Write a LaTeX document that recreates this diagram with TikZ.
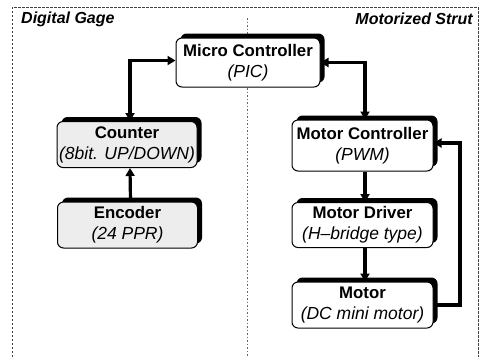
\documentclass[tikz,border=0pt]{standalone}
\usepackage{fontspec}
\setmainfont{Liberation Sans}
\usetikzlibrary{arrows.meta,shadows}
\begin{document}
\begin{tikzpicture}[x=1pt,y=-1pt,
  blk/.style={draw=black, line width=1pt, rounded corners=6pt, fill=white,
    inner sep=0pt, align=center, font=\fontsize{17}{21}\selectfont,
    drop shadow={shadow xshift=4.5pt, shadow yshift=4.5pt, fill=black, opacity=1}},
  gblk/.style={blk, fill=black!7},
  conn/.style={line width=3.2pt, -{Triangle[length=8pt,width=9pt]}},
  bconn/.style={line width=3.2pt, {Triangle[length=8pt,width=9pt]}-{Triangle[length=8pt,width=9pt]}},
  frame/.style={draw=black!75, line width=0.6pt, dash pattern=on 2.5pt off 1.5pt},
  mid/.style={draw=black!60, line width=0.6pt, dash pattern=on 1.5pt off 2pt},
  head/.style={font=\fontsize{16}{19}\selectfont\bfseries\itshape, inner sep=0pt}
]
\newcommand{\Ttl}[1]{{\fontsize{16.8}{21}\selectfont\bfseries #1}}
\newcommand{\Sub}[1]{{\fontsize{17.5}{21}\selectfont\itshape #1}}
\useasboundingbox (0,0) rectangle (481,357);

% frame
\draw[frame] (12,357) -- (12,7) -- (478,7) -- (478,357);
\draw[mid] (247,18) -- (247,357);

% headings
\node[head, anchor=base west] (hl) at (21,23) {Digital Gage};
\node[head, anchor=base east] (hr) at (473,24) {Motorized Strut};

% boxes
\node[blk, minimum width=144pt, minimum height=49pt] (mc) at (248,62.5)
  {\Ttl{Micro Controller}\\\Sub{(PIC)}};
\node[gblk, minimum width=140pt, minimum height=46pt] (cnt) at (127,144.5)
  {\Ttl{Counter}\\\Sub{(8bit. UP/DOWN)}};
\node[gblk, minimum width=140pt, minimum height=46pt] (enc) at (127.5,225)
  {\Ttl{Encoder}\\\Sub{(24 PPR)}};
\node[blk, minimum width=141pt, minimum height=51pt] (mctl) at (362.5,145.5)
  {\Ttl{Motor Controller}\\\Sub{(PWM)}};
\node[blk, minimum width=141pt, minimum height=45pt] (drv) at (362.5,225)
  {\Ttl{Motor Driver}\\\Sub{(H--bridge type)}};
\node[blk, minimum width=141pt, minimum height=46pt] (mot) at (362.5,305)
  {\Ttl{Motor}\\\Sub{(DC mini motor)}};

% connectors
\draw[bconn] ([xshift=3pt]cnt.north) |- ([yshift=2pt]mc.west);
\draw[bconn] (mc.east) -| ([xshift=2.5pt]mctl.north);
\draw[conn] ([xshift=3pt]enc.north) -- ([xshift=3pt]cnt.south);
\draw[conn] ([xshift=2.5pt]mctl.south) -- ([xshift=2.5pt]drv.north);
\draw[conn] ([xshift=2.5pt]drv.south) -- ([xshift=2.5pt]mot.north);
\coordinate (fb) at (460,305);
\draw[conn] (mot.east) -- (fb) |- ([yshift=2.5pt]mctl.east);
\end{tikzpicture}
\end{document}
